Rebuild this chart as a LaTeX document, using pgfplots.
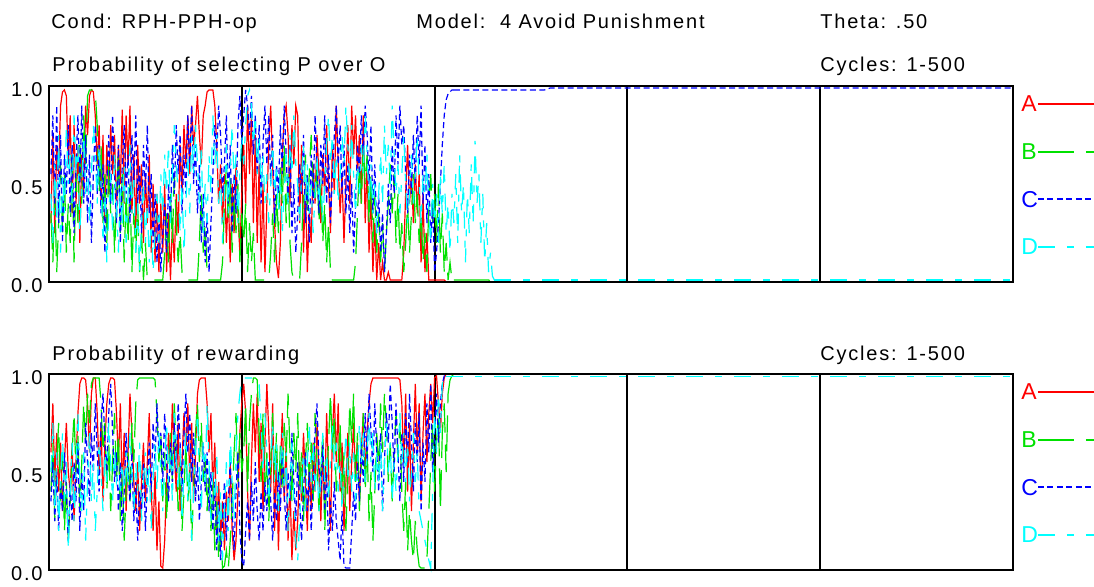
\documentclass[border=0pt]{standalone}
\usepackage{pgfplots}
\pgfplotsset{compat=1.18}
\usepackage{fontspec}
\setmainfont{Liberation Sans}[LetterSpace=9]
\definecolor{cA}{RGB}{255,0,0}
\definecolor{cB}{RGB}{0,225,0}
\definecolor{cC}{RGB}{0,0,255}
\definecolor{cD}{RGB}{0,255,255}
\tikzset{
 sA/.style={cA, line width=0.6pt},
 sB/.style={cB, line width=0.6pt, dash pattern=on 18pt off 6pt},
 sC/.style={cC, line width=0.6pt, dash pattern=on 3pt off 1.75pt},
 sD/.style={cD, line width=0.6pt, dash pattern=on 8.5pt off 6pt on 3.5pt off 6pt},
}
\pgfplotsset{
 panel/.style={scale only axis, width=482pt, height=98pt, xmin=0, xmax=500, ymin=0, ymax=1,
   xtick=\empty, ytick={0,0.5,1}, yticklabels={0.0,0.5,1.0}, major tick length=0pt,
   axis line style={black, line width=1pt},
   yticklabel style={font=\fontsize{10}{12}\selectfont, inner sep=0pt, xshift=-3pt, yshift=-2pt},
   clip=false, axis on top, anchor=south west},
 table/dat/.style={row sep=\\, x expr=\coordindex+1, y index=0},
 div/.style={black, line width=1pt, forget plot},
}
\newcommand{\legendrows}{%
  \node[anchor=west, inner sep=0pt, text=cA, font=\fontsize{11.5}{13}\selectfont, xshift=4pt] at (rel axis cs:1,0.908) {A};
  \node[anchor=west, inner sep=0pt, text=cB, font=\fontsize{11.5}{13}\selectfont, xshift=4pt] at (rel axis cs:1,0.663) {B};
  \node[anchor=west, inner sep=0pt, text=cC, font=\fontsize{11.5}{13}\selectfont, xshift=4pt] at (rel axis cs:1,0.423) {C};
  \node[anchor=west, inner sep=0pt, text=cD, font=\fontsize{11.5}{13}\selectfont, xshift=4pt] at (rel axis cs:1,0.179) {D};
  \draw[sA] (rel axis cs:1,0.908) ++(12.5pt,0) -- ++(40pt,0);
  \draw[sB] (rel axis cs:1,0.663) ++(12.5pt,0) -- ++(40pt,0);
  \draw[sC, line width=0.75pt] (rel axis cs:1,0.423) ++(12.5pt,0) -- ++(40pt,0);
  \draw[sD] (rel axis cs:1,0.179) ++(12.5pt,0) -- ++(40pt,0);
}
\begin{document}
\begin{tikzpicture}
\useasboundingbox (0,0) rectangle (547pt,293pt);
\node[anchor=base west, inner sep=0pt] at (25.5pt,279pt) {Cond: RPH-PPH-op};
\node[anchor=base west, inner sep=0pt] at (208pt,279pt) {Model:\ \ 4 Avoid Punishment};
\node[anchor=base west, inner sep=0pt] at (410pt,279pt) {Theta: .50};
\node[anchor=base west, inner sep=0pt] at (26pt,257.5pt) {Probability of selecting P over O};
\node[anchor=base west, inner sep=0pt] at (410pt,257.5pt) {Cycles: 1-500};
\node[anchor=base west, inner sep=0pt] at (26pt,113pt) {Probability of rewarding};
\node[anchor=base west, inner sep=0pt] at (410pt,113pt) {Cycles: 1-500};

% ---------------- top panel ----------------
\begin{axis}[panel, at={(24.5pt,152pt)}]
\addplot[div] coordinates {(100,0)(100,1)};
\addplot[div] coordinates {(200,0)(200,1)};
\addplot[div] coordinates {(300,0)(300,1)};
\addplot[div] coordinates {(400,0)(400,1)};
% A
\addplot[sA] table[dat] {
0.30\\0.75\\0.25\\0.70\\0.55\\0.90\\0.97\\0.98\\0.95\\0.60\\
0.85\\0.35\\0.80\\0.40\\0.70\\0.20\\0.65\\0.45\\0.90\\0.75\\
0.95\\0.98\\0.97\\0.85\\0.60\\0.80\\0.40\\0.75\\0.30\\0.70\\
0.45\\0.80\\0.55\\0.75\\0.35\\0.70\\0.50\\0.88\\0.40\\0.85\\
0.60\\0.90\\0.35\\0.65\\0.25\\0.70\\0.40\\0.60\\0.20\\0.55\\
0.30\\0.65\\0.15\\0.50\\0.10\\0.45\\0.05\\0.40\\0.15\\0.50\\
0.05\\0.35\\0.01\\0.30\\0.10\\0.45\\0.25\\0.70\\0.45\\0.80\\
0.60\\0.85\\0.55\\0.90\\0.70\\0.80\\0.95\\0.75\\0.60\\0.85\\
0.90\\0.97\\0.98\\0.98\\0.98\\0.90\\0.70\\0.40\\0.60\\0.30\\
0.55\\0.20\\0.45\\0.10\\0.50\\0.25\\0.60\\0.35\\0.15\\0.45\\
0.70\\0.40\\0.90\\0.55\\0.85\\0.30\\0.75\\0.20\\0.60\\0.10\\
0.50\\0.05\\0.40\\0.70\\0.90\\0.60\\0.30\\0.10\\0.02\\0.20\\
0.65\\0.85\\0.90\\0.75\\0.40\\0.80\\0.60\\0.90\\0.85\\0.30\\
0.70\\0.15\\0.50\\0.05\\0.35\\0.20\\0.60\\0.40\\0.75\\0.55\\
0.30\\0.65\\0.45\\0.80\\0.50\\0.25\\0.70\\0.45\\0.90\\0.60\\
0.35\\0.55\\0.20\\0.50\\0.80\\0.40\\0.90\\0.65\\0.85\\0.55\\
0.75\\0.40\\0.85\\0.30\\0.60\\0.15\\0.45\\0.05\\0.30\\0.01\\
0.20\\0.01\\0.10\\0.01\\0.01\\0.05\\0.01\\0.01\\0.01\\0.01\\
0.01\\0.01\\0.01\\0.15\\0.45\\0.70\\0.40\\0.55\\0.30\\0.60\\
0.35\\0.55\\0.10\\0.45\\0.05\\0.25\\0.01\\0.01\\0.01\\0.01\\
0.01\\0.01\\0.01\\0.01\\0.01\\0.00\\
};
\addplot[sA, forget plot] coordinates {(206,0)(500,0)};
% B
\addplot[sB] table[dat] {
0.35\\0.10\\0.45\\0.05\\0.30\\0.60\\0.25\\0.55\\0.15\\0.40\\
0.20\\0.65\\0.10\\0.55\\0.30\\0.70\\0.40\\0.85\\0.60\\0.95\\
0.98\\0.98\\0.98\\0.97\\0.80\\0.45\\0.70\\0.30\\0.55\\0.20\\
0.60\\0.35\\0.50\\0.15\\0.40\\0.65\\0.25\\0.55\\0.10\\0.45\\
0.20\\0.50\\0.05\\0.35\\0.15\\0.40\\0.05\\0.25\\0.01\\0.20\\
0.01\\0.01\\0.01\\0.01\\0.01\\0.01\\0.01\\0.01\\0.01\\0.15\\
0.35\\0.10\\0.45\\0.20\\0.55\\0.30\\0.10\\0.25\\0.05\\0.01\\
0.01\\0.01\\0.01\\0.01\\0.01\\0.01\\0.01\\0.20\\0.45\\0.15\\
0.30\\0.05\\0.01\\0.01\\0.01\\0.01\\0.01\\0.01\\0.01\\0.10\\
0.40\\0.60\\0.30\\0.55\\0.15\\0.45\\0.25\\0.50\\0.10\\0.35\\
0.20\\0.40\\0.05\\0.30\\0.10\\0.25\\0.01\\0.01\\0.01\\0.01\\
0.01\\0.01\\0.01\\0.01\\0.15\\0.35\\0.10\\0.45\\0.25\\0.60\\
0.40\\0.70\\0.30\\0.55\\0.20\\0.05\\0.01\\0.01\\0.01\\0.01\\
0.20\\0.45\\0.65\\0.35\\0.55\\0.75\\0.50\\0.40\\0.60\\0.30\\
0.50\\0.20\\0.40\\0.10\\0.30\\0.05\\0.01\\0.01\\0.01\\0.01\\
0.01\\0.01\\0.01\\0.01\\0.01\\0.01\\0.01\\0.01\\0.10\\0.35\\
0.60\\0.40\\0.70\\0.50\\0.65\\0.30\\0.55\\0.20\\0.45\\0.15\\
0.35\\0.10\\0.30\\0.05\\0.25\\0.40\\0.60\\0.35\\0.55\\0.20\\
0.45\\0.15\\0.30\\0.05\\0.20\\0.40\\0.15\\0.35\\0.55\\0.30\\
0.45\\0.20\\0.35\\0.10\\0.25\\0.05\\0.40\\0.55\\0.30\\0.45\\
0.20\\0.50\\0.15\\0.35\\0.05\\0.20\\0.01\\0.10\\0.01\\0.01\\
};
\addplot[sB, forget plot] coordinates {(210,0.01)(228,0.01)(230,0)(500,0)};
% C
\addplot[sC] table[dat] {
0.55\\0.85\\0.40\\0.90\\0.30\\0.75\\0.20\\0.65\\0.45\\0.80\\
0.35\\0.70\\0.25\\0.60\\0.85\\0.50\\0.90\\0.40\\0.75\\0.30\\
0.65\\0.20\\0.55\\0.80\\0.45\\0.70\\0.35\\0.60\\0.15\\0.50\\
0.75\\0.40\\0.85\\0.55\\0.30\\0.70\\0.20\\0.60\\0.80\\0.45\\
0.65\\0.30\\0.75\\0.50\\0.85\\0.40\\0.60\\0.25\\0.70\\0.45\\
0.80\\0.35\\0.55\\0.20\\0.45\\0.10\\0.35\\0.05\\0.25\\0.40\\
0.15\\0.50\\0.30\\0.70\\0.45\\0.80\\0.55\\0.75\\0.35\\0.65\\
0.45\\0.85\\0.60\\0.90\\0.50\\0.70\\0.35\\0.60\\0.20\\0.45\\
0.10\\0.35\\0.05\\0.30\\0.55\\0.80\\0.65\\0.90\\0.75\\0.45\\
0.60\\0.85\\0.40\\0.70\\0.25\\0.55\\0.35\\0.80\\0.95\\0.70\\
0.85\\0.98\\0.90\\0.75\\0.95\\0.65\\0.85\\0.55\\0.80\\0.40\\
0.70\\0.90\\0.60\\0.85\\0.50\\0.75\\0.30\\0.60\\0.45\\0.80\\
0.55\\0.90\\0.65\\0.40\\0.70\\0.25\\0.50\\0.15\\0.35\\0.60\\
0.45\\0.75\\0.30\\0.55\\0.20\\0.65\\0.40\\0.85\\0.60\\0.35\\
0.70\\0.50\\0.85\\0.40\\0.65\\0.30\\0.55\\0.75\\0.90\\0.60\\
0.80\\0.45\\0.70\\0.35\\0.60\\0.25\\0.50\\0.15\\0.40\\0.70\\
0.55\\0.85\\0.65\\0.90\\0.75\\0.50\\0.80\\0.35\\0.60\\0.25\\
0.45\\0.15\\0.35\\0.05\\0.25\\0.50\\0.30\\0.70\\0.45\\0.85\\
0.60\\0.90\\0.70\\0.80\\0.55\\0.35\\0.65\\0.45\\0.75\\0.50\\
0.85\\0.60\\0.90\\0.40\\0.70\\0.30\\0.55\\0.20\\0.40\\0.05\\
0.15\\0.30\\0.50\\0.70\\0.85\\0.93\\0.96\\0.97\\0.98\\0.98\\
};
\addplot[sC, forget plot] coordinates {(210,0.98)(257,0.98)(260,0.99)(500,0.99)};
% D
\addplot[sD] table[dat] {
0.45\\0.20\\0.60\\0.30\\0.75\\0.15\\0.55\\0.35\\0.80\\0.50\\
0.65\\0.40\\0.85\\0.55\\0.70\\0.25\\0.50\\0.75\\0.45\\0.60\\
0.30\\0.55\\0.80\\0.65\\0.40\\0.70\\0.50\\0.20\\0.45\\0.10\\
0.35\\0.55\\0.25\\0.65\\0.40\\0.15\\0.50\\0.30\\0.60\\0.20\\
0.45\\0.70\\0.35\\0.55\\0.15\\0.40\\0.05\\0.30\\0.50\\0.20\\
0.40\\0.10\\0.30\\0.05\\0.25\\0.45\\0.20\\0.55\\0.35\\0.65\\
0.45\\0.70\\0.30\\0.55\\0.80\\0.60\\0.45\\0.25\\0.50\\0.15\\
0.40\\0.65\\0.35\\0.75\\0.55\\0.80\\0.60\\0.40\\0.70\\0.25\\
0.50\\0.30\\0.65\\0.45\\0.85\\0.60\\0.75\\0.40\\0.55\\0.20\\
0.45\\0.70\\0.35\\0.60\\0.80\\0.50\\0.65\\0.30\\0.55\\0.75\\
0.60\\0.80\\0.95\\0.98\\0.90\\0.70\\0.85\\0.55\\0.75\\0.45\\
0.65\\0.40\\0.55\\0.30\\0.50\\0.70\\0.45\\0.60\\0.35\\0.55\\
0.25\\0.45\\0.65\\0.40\\0.75\\0.55\\0.85\\0.60\\0.50\\0.30\\
0.55\\0.70\\0.40\\0.60\\0.35\\0.50\\0.25\\0.45\\0.65\\0.40\\
0.55\\0.30\\0.50\\0.70\\0.85\\0.60\\0.75\\0.45\\0.65\\0.40\\
0.55\\0.75\\0.60\\0.90\\0.70\\0.50\\0.80\\0.55\\0.35\\0.60\\
0.45\\0.70\\0.55\\0.85\\0.65\\0.40\\0.60\\0.35\\0.50\\0.25\\
0.45\\0.65\\0.40\\0.80\\0.55\\0.70\\0.50\\0.90\\0.65\\0.45\\
0.60\\0.35\\0.55\\0.75\\0.50\\0.30\\0.45\\0.65\\0.40\\0.55\\
0.75\\0.50\\0.30\\0.55\\0.45\\0.65\\0.35\\0.20\\0.50\\0.30\\
0.45\\0.20\\0.55\\0.35\\0.60\\0.25\\0.40\\0.15\\0.45\\0.30\\
0.55\\0.20\\0.65\\0.35\\0.50\\0.10\\0.45\\0.25\\0.60\\0.30\\
0.72\\0.40\\0.55\\0.20\\0.45\\0.10\\0.30\\0.05\\0.15\\0.03\\
0.01\\
};
\addplot[sD, forget plot] coordinates {(231,0.01)(500,0.01)};
\legendrows
\end{axis}

% ---------------- bottom panel ----------------
\begin{axis}[panel, at={(24.5pt,8pt)}]
\addplot[div] coordinates {(100,0)(100,1)};
\addplot[div] coordinates {(200,0)(200,1)};
\addplot[div] coordinates {(300,0)(300,1)};
\addplot[div] coordinates {(400,0)(400,1)};
% A
\addplot[sA] table[dat] {
0.60\\0.85\\0.45\\0.70\\0.40\\0.65\\0.30\\0.55\\0.75\\0.50\\
0.40\\0.65\\0.25\\0.55\\0.80\\0.95\\0.98\\0.98\\0.97\\0.85\\
0.60\\0.90\\0.98\\0.98\\0.80\\0.50\\0.75\\0.35\\0.65\\0.85\\
0.95\\0.98\\0.98\\0.97\\0.80\\0.55\\0.85\\0.40\\0.70\\0.30\\
0.60\\0.90\\0.70\\0.45\\0.30\\0.55\\0.20\\0.45\\0.65\\0.35\\
0.55\\0.80\\0.40\\0.20\\0.50\\0.10\\0.35\\0.02\\0.01\\0.15\\
0.45\\0.70\\0.50\\0.85\\0.60\\0.40\\0.75\\0.30\\0.55\\0.80\\
0.60\\0.85\\0.45\\0.75\\0.35\\0.60\\0.90\\0.97\\0.98\\0.98\\
0.98\\0.85\\0.60\\0.80\\0.40\\0.65\\0.20\\0.45\\0.15\\0.35\\
0.10\\0.40\\0.25\\0.55\\0.20\\0.05\\0.15\\0.40\\0.70\\0.85\\
0.95\\0.80\\0.40\\0.15\\0.55\\0.85\\0.60\\0.90\\0.45\\0.75\\
0.30\\0.65\\0.95\\0.70\\0.40\\0.85\\0.20\\0.60\\0.10\\0.50\\
0.80\\0.35\\0.65\\0.15\\0.45\\0.05\\0.30\\0.10\\0.25\\0.55\\
0.35\\0.70\\0.45\\0.20\\0.55\\0.30\\0.65\\0.40\\0.75\\0.50\\
0.25\\0.60\\0.35\\0.80\\0.50\\0.20\\0.70\\0.90\\0.55\\0.85\\
0.40\\0.65\\0.20\\0.45\\0.70\\0.30\\0.55\\0.75\\0.45\\0.65\\
0.35\\0.60\\0.80\\0.50\\0.70\\0.85\\0.95\\0.98\\0.98\\0.98\\
0.98\\0.98\\0.98\\0.98\\0.98\\0.98\\0.98\\0.98\\0.98\\0.98\\
0.98\\0.97\\0.85\\0.55\\0.90\\0.40\\0.75\\0.30\\0.65\\0.95\\
0.60\\0.85\\0.35\\0.70\\0.90\\0.55\\0.80\\0.95\\0.75\\0.98\\
0.99\\0.85\\0.70\\0.90\\0.98\\1.00\\
};
\addplot[sA, forget plot] coordinates {(206,1)(500,1)};
% B
\addplot[sB] table[dat] {
0.40\\0.65\\0.25\\0.55\\0.75\\0.35\\0.60\\0.20\\0.45\\0.15\\
0.35\\0.60\\0.80\\0.50\\0.70\\0.30\\0.55\\0.85\\0.65\\0.90\\
0.75\\0.95\\0.98\\0.98\\0.98\\0.98\\0.85\\0.60\\0.75\\0.40\\
0.65\\0.30\\0.55\\0.80\\0.45\\0.70\\0.25\\0.50\\0.15\\0.40\\
0.60\\0.35\\0.75\\0.55\\0.85\\0.97\\0.98\\0.98\\0.98\\0.98\\
0.98\\0.98\\0.98\\0.98\\0.97\\0.80\\0.55\\0.70\\0.35\\0.60\\
0.25\\0.50\\0.70\\0.45\\0.85\\0.60\\0.30\\0.55\\0.20\\0.40\\
0.65\\0.35\\0.50\\0.15\\0.40\\0.70\\0.85\\0.55\\0.75\\0.45\\
0.60\\0.30\\0.50\\0.20\\0.45\\0.10\\0.35\\0.05\\0.20\\0.01\\
0.02\\0.10\\0.01\\0.15\\0.35\\0.60\\0.80\\0.45\\0.70\\0.50\\
0.60\\0.85\\0.40\\0.75\\0.90\\0.98\\0.98\\0.97\\0.70\\0.45\\
0.80\\0.35\\0.60\\0.25\\0.55\\0.80\\0.45\\0.70\\0.30\\0.65\\
0.40\\0.75\\0.55\\0.90\\0.60\\0.35\\0.70\\0.50\\0.80\\0.40\\
0.60\\0.25\\0.55\\0.75\\0.45\\0.65\\0.35\\0.80\\0.55\\0.30\\
0.50\\0.70\\0.20\\0.45\\0.65\\0.90\\0.60\\0.80\\0.40\\0.55\\
0.75\\0.35\\0.60\\0.20\\0.50\\0.85\\0.65\\0.90\\0.45\\0.70\\
0.30\\0.55\\0.80\\0.40\\0.65\\0.25\\0.50\\0.15\\0.40\\0.70\\
0.50\\0.85\\0.60\\0.90\\0.75\\0.45\\0.65\\0.35\\0.60\\0.80\\
0.55\\0.75\\0.40\\0.20\\0.45\\0.10\\0.30\\0.15\\0.05\\0.25\\
0.10\\0.02\\0.01\\0.01\\0.01\\0.05\\0.30\\0.55\\0.75\\0.40\\
0.65\\0.80\\0.30\\0.70\\0.85\\0.50\\0.90\\0.97\\0.99\\1.00\\
};
\addplot[sB, forget plot] coordinates {(210,1)(500,1)};
% C
\addplot[sC] table[dat] {
0.35\\0.55\\0.25\\0.50\\0.20\\0.45\\0.30\\0.60\\0.40\\0.15\\
0.45\\0.25\\0.55\\0.35\\0.65\\0.20\\0.50\\0.30\\0.75\\0.55\\
0.35\\0.70\\0.50\\0.85\\0.60\\0.40\\0.75\\0.90\\0.65\\0.50\\
0.80\\0.95\\0.70\\0.45\\0.60\\0.30\\0.55\\0.20\\0.40\\0.70\\
0.50\\0.35\\0.60\\0.25\\0.45\\0.15\\0.40\\0.30\\0.55\\0.20\\
0.45\\0.65\\0.40\\0.75\\0.55\\0.85\\0.60\\0.70\\0.45\\0.80\\
0.55\\0.35\\0.65\\0.45\\0.75\\0.50\\0.85\\0.65\\0.40\\0.70\\
0.90\\0.60\\0.80\\0.45\\0.70\\0.35\\0.55\\0.25\\0.45\\0.65\\
0.40\\0.60\\0.30\\0.50\\0.20\\0.45\\0.10\\0.35\\0.05\\0.25\\
0.45\\0.15\\0.35\\0.55\\0.30\\0.10\\0.40\\0.60\\0.20\\0.05\\
0.02\\0.20\\0.35\\0.15\\0.45\\0.25\\0.55\\0.30\\0.15\\0.40\\
0.20\\0.45\\0.30\\0.55\\0.35\\0.15\\0.40\\0.25\\0.50\\0.30\\
0.60\\0.40\\0.20\\0.50\\0.35\\0.70\\0.45\\0.25\\0.55\\0.35\\
0.15\\0.40\\0.60\\0.30\\0.50\\0.20\\0.45\\0.70\\0.85\\0.55\\
0.40\\0.65\\0.30\\0.50\\0.10\\0.35\\0.20\\0.45\\0.25\\0.15\\
0.05\\0.30\\0.02\\0.01\\0.01\\0.01\\0.20\\0.40\\0.25\\0.55\\
0.35\\0.65\\0.45\\0.80\\0.55\\0.90\\0.70\\0.50\\0.85\\0.60\\
0.40\\0.70\\0.30\\0.55\\0.80\\0.65\\0.95\\0.75\\0.50\\0.85\\
0.60\\0.35\\0.70\\0.45\\0.80\\0.55\\0.90\\0.65\\0.40\\0.75\\
0.55\\0.80\\0.30\\0.65\\0.45\\0.85\\0.60\\0.95\\0.50\\0.70\\
0.90\\0.65\\0.85\\0.95\\0.99\\1.00\\
};
\addplot[sC, forget plot] coordinates {(206,1)(500,1)};
% D
\addplot[sD] table[dat] {
0.50\\0.75\\0.30\\0.60\\0.20\\0.45\\0.70\\0.35\\0.55\\0.10\\
0.40\\0.65\\0.25\\0.50\\0.80\\0.45\\0.30\\0.60\\0.15\\0.45\\
0.70\\0.35\\0.55\\0.20\\0.40\\0.65\\0.50\\0.30\\0.60\\0.45\\
0.75\\0.55\\0.35\\0.60\\0.45\\0.50\\0.40\\0.55\\0.35\\0.60\\
0.45\\0.70\\0.50\\0.30\\0.55\\0.40\\0.65\\0.25\\0.45\\0.60\\
0.35\\0.55\\0.20\\0.45\\0.65\\0.40\\0.70\\0.50\\0.30\\0.55\\
0.75\\0.45\\0.60\\0.35\\0.80\\0.55\\0.40\\0.65\\0.25\\0.50\\
0.70\\0.35\\0.55\\0.15\\0.40\\0.60\\0.80\\0.50\\0.30\\0.65\\
0.45\\0.85\\0.55\\0.25\\0.50\\0.35\\0.60\\0.15\\0.40\\0.05\\
0.30\\0.55\\0.20\\0.70\\0.45\\0.25\\0.60\\0.80\\0.90\\0.98\\
0.98\\0.98\\0.98\\0.98\\0.98\\0.98\\0.98\\0.98\\0.95\\0.75\\
0.50\\0.80\\0.60\\0.35\\0.55\\0.75\\0.45\\0.65\\0.30\\0.55\\
0.70\\0.40\\0.60\\0.20\\0.45\\0.65\\0.35\\0.15\\0.05\\0.25\\
0.45\\0.60\\0.30\\0.55\\0.75\\0.45\\0.65\\0.40\\0.55\\0.30\\
0.50\\0.70\\0.45\\0.60\\0.35\\0.55\\0.75\\0.50\\0.65\\0.40\\
0.55\\0.30\\0.50\\0.70\\0.45\\0.65\\0.40\\0.60\\0.35\\0.50\\
0.75\\0.55\\0.70\\0.45\\0.60\\0.80\\0.55\\0.70\\0.40\\0.60\\
0.45\\0.65\\0.30\\0.55\\0.75\\0.50\\0.65\\0.35\\0.55\\0.40\\
0.60\\0.80\\0.55\\0.70\\0.45\\0.65\\0.35\\0.50\\0.70\\0.45\\
0.60\\0.30\\0.25\\0.20\\0.15\\0.10\\0.05\\0.01\\0.40\\0.80\\
0.60\\0.90\\0.70\\0.95\\0.988\\0.988\\
};
\addplot[sD, forget plot] coordinates {(206,0.988)(500,0.988)};
\legendrows
\end{axis}
\end{tikzpicture}
\end{document}
